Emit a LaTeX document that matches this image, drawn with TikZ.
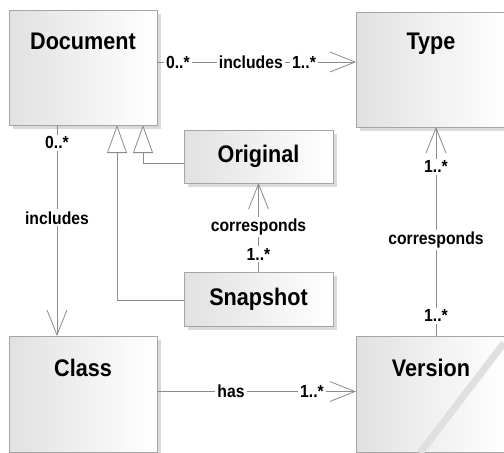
\documentclass[tikz,border=0pt]{standalone}
\usepackage{fontspec}
\setmainfont{Liberation Sans}
\newfontfamily\umlfont[FakeStretch=0.9]{Liberation Sans}
\usetikzlibrary{arrows.meta,shadows}
\definecolor{myBorder}{RGB}{165,165,165}
\definecolor{myLine}{RGB}{140,140,140}
\definecolor{myShade}{RGB}{225,225,225}
\definecolor{myShadow}{RGB}{218,218,218}

\tikzset{
  umlclass/.style={draw=myBorder, left color=myShade, right color=white, inner sep=0pt, outer sep=0pt,
    general shadow={fill=myShadow, shadow xshift=4pt, shadow yshift=-4pt}},
  classname/.style={font=\umlfont\bfseries\fontsize{24}{26}\selectfont, anchor=center, yshift=-31.5pt},
  boxname/.style={font=\umlfont\bfseries\fontsize{24}{26}\selectfont},
  assoc/.style={myLine, line width=0.8pt, -{Straight Barb[length=25pt, width=20pt]}},
  gen/.style={myLine, line width=0.8pt, -{Triangle[open, length=28pt, width=20pt, fill=white]}},
  mult/.style={font=\umlfont\bfseries\fontsize{17.5}{19}\selectfont, text=black, fill=white, inner sep=2pt},
}

\begin{document}
\begin{tikzpicture}[x=1pt, y=-1pt]
  \useasboundingbox (0,0) rectangle (504,453);
  \clip (0,0) rectangle (504,453);
  % Klassen
  \node[umlclass, minimum width=148pt, minimum height=115pt, label={[classname]north:Document}] (doc) at (83, 67.5) {};
  \node[umlclass, minimum width=150pt, minimum height=115pt, label={[classname]north:Type}] (type) at (431, 69.5) {};
  \node[umlclass, minimum width=148pt, minimum height=116pt, label={[classname]north:Class}] (cls) at (83, 394) {};
  \node[umlclass, minimum width=150pt, minimum height=116pt, label={[classname]north:Version}] (vers) at (431, 394) {};
  \node[umlclass, boxname, minimum width=149pt, minimum height=53pt] (orig) at (258.5, 156.5) {Original};
  \node[umlclass, boxname, minimum width=149pt, minimum height=54pt] (snap) at (258.5, 299) {Snapshot};
  % Assoziationen
  \draw[assoc] ([yshift=5.5pt]doc.east) -- ([yshift=5.5pt]doc.east -| type.west)
    node[mult, pos=.105] {0..*} node[mult, pos=.472] {includes} node[mult, pos=.739] {1..*};
  \draw[assoc] ([xshift=-26pt]doc.south) -- ([xshift=-26pt]doc.south |- cls.north)
    node[mult, pos=.085] {0..*} node[mult, pos=.44] {includes};
  \draw[assoc] (snap.north) -- (orig.south)
    node[mult, pos=.2] {1..*} node[mult, pos=.506] {corresponds};
  \draw[assoc] ([xshift=5pt]vers.north) -- ([xshift=5pt]type.south)
    node[mult, pos=.096] {1..*} node[mult, pos=.459] {corresponds} node[mult, pos=.809] {1..*};
  \draw[assoc] ([yshift=2.5pt]cls.east) -- ([yshift=2.5pt]vers.west)
    node[mult, pos=.372] {has} node[mult, pos=.779] {1..*};
  % Generalisierung
  \draw[gen] ([yshift=-6.5pt]orig.west) -| ([xshift=60pt]doc.south);
  \draw[gen] ([yshift=-1pt]snap.west) -| ([xshift=34pt]doc.south);
  % Streifen
  \draw[line width=7pt, black!12] (420, 453) -- (504, 343);
\end{tikzpicture}
\end{document}
